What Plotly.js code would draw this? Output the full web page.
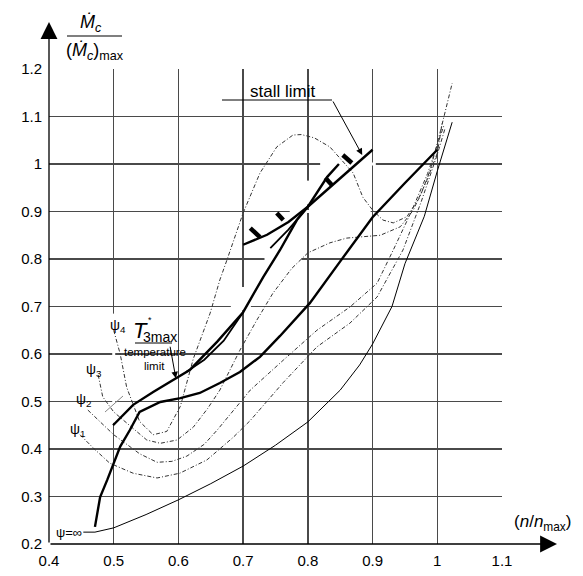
<!DOCTYPE html>
<html>
<head>
<meta charset="utf-8">
<script src="https://cdn.plot.ly/plotly-3.0.1.min.js"></script>
<style>html,body{margin:0;padding:0;background:#fff;}#chart{width:583px;height:576px;}</style>
</head>
<body>
<div id="chart"></div>
<script>
// ---- data ----
const xTicks = [0.4,0.5,0.6,0.7,0.8,0.9,1.0,1.1];
const yTicks = [0.2,0.3,0.4,0.5,0.6,0.7,0.8,0.9,1.0,1.1,1.2];

// psi = infinity (thin solid)
const psiInfX = [0.453,0.471,0.5,0.55,0.6,0.65,0.7,0.75,0.8,0.85,0.88,0.9,0.93,0.95,0.98,1.0,1.023];
const psiInfY = [0.225,0.225,0.234,0.262,0.293,0.327,0.364,0.408,0.457,0.524,0.577,0.621,0.70,0.79,0.89,0.985,1.088];

// thick operating line A (lower)
const lineAX = [0.471,0.479,0.49,0.5,0.51,0.525,0.54,0.572,0.603,0.633,0.664,0.695,0.726,0.757,0.788,0.803,0.85,0.9,0.95,1.0];
const lineAY = [0.236,0.299,0.335,0.37,0.405,0.44,0.478,0.499,0.507,0.518,0.539,0.562,0.594,0.638,0.686,0.707,0.795,0.888,0.96,1.03];

// thick operating line C (upper)
const lineCX = [0.499,0.53,0.561,0.598,0.618,0.66,0.7,0.731,0.757,0.783,0.8,0.83,0.848];
const lineCY = [0.45,0.493,0.52,0.55,0.567,0.626,0.688,0.762,0.819,0.882,0.91,0.973,1.0];

// side branches of line C
const branch1X = [0.612,0.64,0.67,0.7];
const branch1Y = [0.562,0.588,0.628,0.688];
const branch2X = [0.742,0.77,0.8];
const branch2Y = [0.823,0.862,0.91];

// stall limit line
const stallX = [0.7,0.737,0.77,0.8,0.85,0.9];
const stallY = [0.83,0.851,0.878,0.91,0.97,1.03];

// hatch marks on the stall limit (segment pairs)
const hatchX = [0.711,0.726,null,0.752,0.762,null,0.827,0.837,null,0.854,0.868];
const hatchY = [0.865,0.846,null,0.897,0.882,null,0.971,0.956,null,1.019,1.002];

// constant psi lines (dash-dot)
const psi4X = [0.5,0.51,0.52,0.54,0.561,0.582,0.603,0.623,0.649,0.664,0.675,0.7,0.726,0.752,0.777,0.79,0.81,0.834,0.87,0.885,0.9,0.916,0.932,0.953,0.973,0.989,1.005,1.023];
const psi4Y = [0.65,0.6,0.53,0.458,0.43,0.437,0.49,0.59,0.686,0.756,0.798,0.897,0.981,1.036,1.061,1.062,1.055,1.036,0.981,0.93,0.903,0.882,0.876,0.889,0.93,0.987,1.07,1.17];

const psi3X = [0.476,0.483,0.5,0.52,0.551,0.572,0.598,0.623,0.645,0.664,0.695,0.721,0.746,0.775,0.8,0.834,0.86,0.912,0.943,0.963,0.984,1.0,1.008];
const psi3Y = [0.556,0.51,0.478,0.455,0.419,0.412,0.419,0.446,0.485,0.524,0.608,0.671,0.728,0.78,0.813,0.834,0.844,0.85,0.868,0.903,0.966,1.023,1.09];

const psi2X = [0.46,0.48,0.5,0.52,0.54,0.567,0.59,0.613,0.64,0.66,0.685,0.711,0.762,0.814,0.865,0.907,0.932,0.96,0.985,1.0,1.01];
const psi2Y = [0.482,0.455,0.43,0.41,0.39,0.372,0.374,0.385,0.41,0.44,0.48,0.524,0.587,0.65,0.699,0.749,0.819,0.9,0.98,1.04,1.08];

const psi1X = [0.448,0.47,0.494,0.53,0.567,0.602,0.644,0.685,0.711,0.762,0.814,0.865,0.907,0.947,0.975,1.0,1.012];
const psi1Y = [0.43,0.4,0.37,0.349,0.339,0.349,0.377,0.425,0.46,0.54,0.615,0.665,0.72,0.819,0.92,1.02,1.075];

// breaks in the printed grid: [x0, x1, y0, y1]
const gridBreaks = [
  [0.819, 0.905, 1.0, 1.0],
  [0.772, 0.897, 0.9, 0.9],
  [0.733, 0.79, 0.8, 0.8],
  [0.681, 0.712, 0.7, 0.7],
  [0.7, 0.7, 0.692, 0.741],
  [0.8, 0.8, 0.915, 0.965],
  [0.5, 0.5, 0.455, 0.685]
];

// ---- drawing ----
const FONT = 'Liberation Sans, Arial, sans-serif';
const dashDot = '4px,2px,1px,2px';
const thick = {color:'#000', width:2.4};

function tr(x,y,line){ return {x:x, y:y, mode:'lines', line:line, hoverinfo:'skip', showlegend:false, cliponaxis:false}; }

const traces = [
  tr(psiInfX, psiInfY, {color:'#000', width:1}),
  tr(psi1X, psi1Y, {color:'#333', width:1, dash:dashDot}),
  tr(psi2X, psi2Y, {color:'#333', width:1, dash:dashDot}),
  tr(psi3X, psi3Y, {color:'#333', width:1, dash:dashDot}),
  tr(psi4X, psi4Y, {color:'#333', width:1, dash:dashDot}),
  tr(lineAX, lineAY, thick),
  tr(lineCX, lineCY, thick),
  tr(branch1X, branch1Y, {color:'#000', width:1.8}),
  tr(branch2X, branch2Y, {color:'#000', width:1.8}),
  tr(stallX, stallY, thick),
  tr(hatchX, hatchY, {color:'#000', width:4.5})
];

const L = 49, R = 81, T = 69, B = 32, W = 583 - L - R, H = 576 - T - B;
function px(p){ return (p - L) / W; }
function py(p){ return (576 - B - p) / H; }
function label(xp, yp, text, size){
  return {xref:'paper', yref:'paper', x:px(xp), y:py(yp), xanchor:'center', yanchor:'middle', text:text, showarrow:false,
          font:{family:FONT, size:size, color:'#000'}};
}

const annotations = [
  // y axis arrow
  {xref:'paper', yref:'paper', x:0, y:py(22), ax:0, ay:522, text:'', showarrow:true, arrowhead:2, arrowsize:2.6, arrowwidth:1.3, arrowcolor:'#000'},
  // x axis arrow
  {xref:'paper', yref:'paper', x:px(557), y:0, ax:-508, ay:0, text:'', showarrow:true, arrowhead:2, arrowsize:2.6, arrowwidth:1.3, arrowcolor:'#000'},
  // y title
  label(91, 23, '<i>Ṁ</i><sub><i>c</i></sub>', 18),
  label(95, 52, '(<i>Ṁ</i><sub><i>c</i></sub>)<sub>max</sub>', 18),
  // x title
  label(542, 523, '(<i>n</i>/<i>n</i><sub>max</sub>)', 17),
  // stall limit
  label(282, 91, 'stall limit', 17),
  {x:0.884, y:1.019, ax:-30, ay:-55, text:'', showarrow:true, arrowhead:2, arrowsize:1.3, arrowwidth:1, arrowcolor:'#000'},
  // temperature limit
  label(140, 330, '<i>T</i>', 22),
  label(160, 337, '3max', 14),
  label(150, 320, '*', 9),
  label(155, 352, 'temperature', 11.5),
  label(154, 366, 'limit', 11.5),
  {x:0.596, y:0.549, ax:-6, ay:-33, text:'', showarrow:true, arrowhead:2, arrowsize:1.3, arrowwidth:1, arrowcolor:'#000'},
  // psi labels
  label(118, 326, 'ψ<sub>4</sub>', 14),
  label(94, 370, 'ψ<sub>3</sub>', 14),
  label(83, 400, 'ψ<sub>2</sub>', 14),
  label(77, 430, 'ψ<sub>1</sub>', 14),
  label(69, 532, 'ψ=∞', 13)
];

const shapes = [
  // fraction bar of the y title
  {type:'line', xref:'paper', yref:'paper', x0:px(67), x1:px(122), y0:py(36), y1:py(36), line:{color:'#000', width:1.2}},
  // stall limit underline
  {type:'line', xref:'paper', yref:'paper', x0:px(222), x1:px(332), y0:py(100), y1:py(100), line:{color:'#000', width:1}},
  // T3max underline
  {type:'line', xref:'paper', yref:'paper', x0:px(135), x1:px(172), y0:py(343), y1:py(343), line:{color:'#000', width:1}},
  // psi2 leader
  {type:'line', xref:'paper', yref:'paper', x0:px(105), x1:px(123), y0:py(412), y1:py(396), line:{color:'#888', width:1}}
].concat(gridBreaks.map(g => ({type:'line', xref:'x', yref:'y', x0:g[0], x1:g[1], y0:g[2], y1:g[3], layer:'between', line:{color:'#fff', width:3}})));

const layout = {
  width:583, height:576,
  margin:{l:L, r:R, t:T, b:B, pad:0},
  paper_bgcolor:'#fff', plot_bgcolor:'#fff',
  showlegend:false,
  font:{family:FONT, size:15, color:'#000'},
  xaxis:{range:[0.4,1.1], tickvals:xTicks, ticktext:xTicks.map(v=>String(v)), showgrid:true, gridcolor:'#4a4a4a', gridwidth:1.4,
         zeroline:false, showline:false, ticks:'', ticklabelstandoff:6, tickfont:{family:FONT, size:15, color:'#000'}, fixedrange:true},
  yaxis:{range:[0.2,1.2], tickvals:yTicks, ticktext:yTicks.map(v=>String(v)), showgrid:true, gridcolor:'#4a4a4a', gridwidth:1.4,
         zeroline:false, showline:false, ticks:'', ticklabelstandoff:6, tickfont:{family:FONT, size:15, color:'#000'}, fixedrange:true},
  annotations:annotations,
  shapes:shapes
};

Plotly.newPlot('chart', traces, layout, {staticPlot:true, displayModeBar:false});
</script>
</body>
</html>
